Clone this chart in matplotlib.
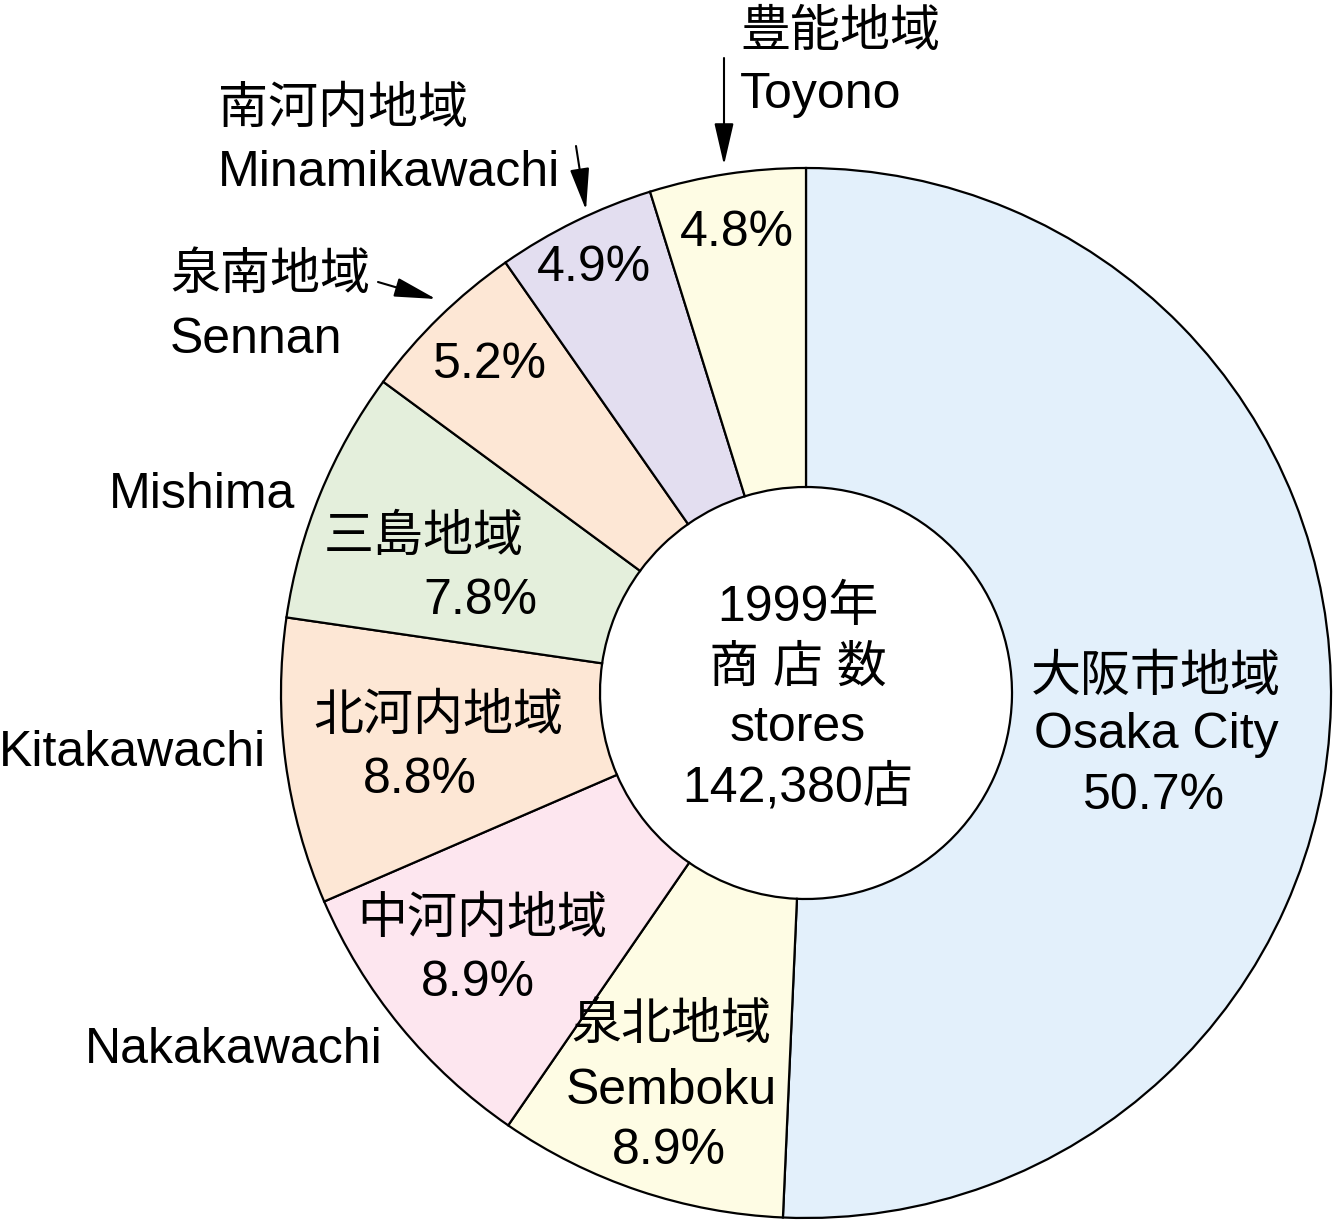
import matplotlib
matplotlib.use("Agg")
import matplotlib.pyplot as plt

# 1999 store counts by region of Osaka prefecture (share of 142,380 stores)
regions_ja = ["大阪市地域", "泉北地域", "中河内地域", "北河内地域",
              "三島地域", "泉南地域", "南河内地域", "豊能地域"]
regions_en = ["Osaka City", "Semboku", "Nakakawachi", "Kitakawachi",
              "Mishima", "Sennan", "Minamikawachi", "Toyono"]
shares = [50.7, 8.9, 8.9, 8.8, 7.8, 5.2, 4.9, 4.8]
colors = ["#e3f0fb", "#fefce4", "#fde6ef", "#fde7d5",
          "#e4efdc", "#fde7d5", "#e3def0", "#fefce4"]
center_lines = ["1999年", "商 店 数", "stores", "142,380店"]

W, H = 1335, 1220
plt.rcParams['font.family'] = ['Liberation Sans', 'Noto Sans CJK JP', 'DejaVu Sans']

fig = plt.figure(figsize=(W / 100, H / 100), dpi=100)
ax = fig.add_axes([0, 0, 1, 1])

cx, cy = 806, H - 693
r_out, r_in = 525, 206
ax.pie(shares, colors=colors, startangle=90, counterclock=False,
       radius=r_out, center=(cx, cy),
       wedgeprops=dict(width=r_out - r_in, edgecolor="black", linewidth=1.6))
ax.set_xlim(0, W)
ax.set_ylim(0, H)
ax.set_aspect("equal")
ax.axis("off")

fs = 36
pct = [f"{s}%" for s in shares]

def put(x, y, s, ha="center"):
    # y measured from the top of the picture; small nudge down to match
    ax.text(x, H - y - 3, s, fontsize=fs, ha=ha, va="center", color="black")

# labels inside the ring
put(1156, 675, regions_ja[0]); put(1156, 732, regions_en[0]); put(1154, 793, pct[0])
put(671, 1023, regions_ja[1]); put(671, 1088, regions_en[1]); put(669, 1148, pct[1])
put(482, 917, regions_ja[2]); put(478, 980, pct[2])
put(438, 714, regions_ja[3]); put(420, 777, pct[3])
put(424, 535, regions_ja[4]); put(480, 598, pct[4])
put(490, 362, pct[5])
put(594, 265, pct[6])
put(737, 230, pct[7])

# labels outside the ring
put(266, 750, regions_en[3], ha="right")
put(295, 492, regions_en[4], ha="right")
put(383, 1047, regions_en[2], ha="right")
put(170, 273, regions_ja[5], ha="left"); put(170, 337, regions_en[5], ha="left")
put(218, 107, regions_ja[6], ha="left"); put(218, 170, regions_en[6], ha="left")
put(740, 30, regions_ja[7], ha="left"); put(740, 92, regions_en[7], ha="left")

# pointer arrows
arrow_kw = dict(arrowstyle="-|>,head_length=1.3,head_width=0.3",
                color="black", lw=1.5, mutation_scale=20, shrinkA=0, shrinkB=0)
for tail, tip in [((378, 282), (436, 299)),
                  ((576, 146), (586, 210)),
                  ((724, 58), (724, 165))]:
    ax.annotate("", xy=(tip[0], H - tip[1]), xytext=(tail[0], H - tail[1]),
                arrowprops=arrow_kw)

# centre text
for y, s in zip([605, 665, 725, 784], center_lines):
    put(798, y, s)

fig.savefig("out.png", dpi=100)
